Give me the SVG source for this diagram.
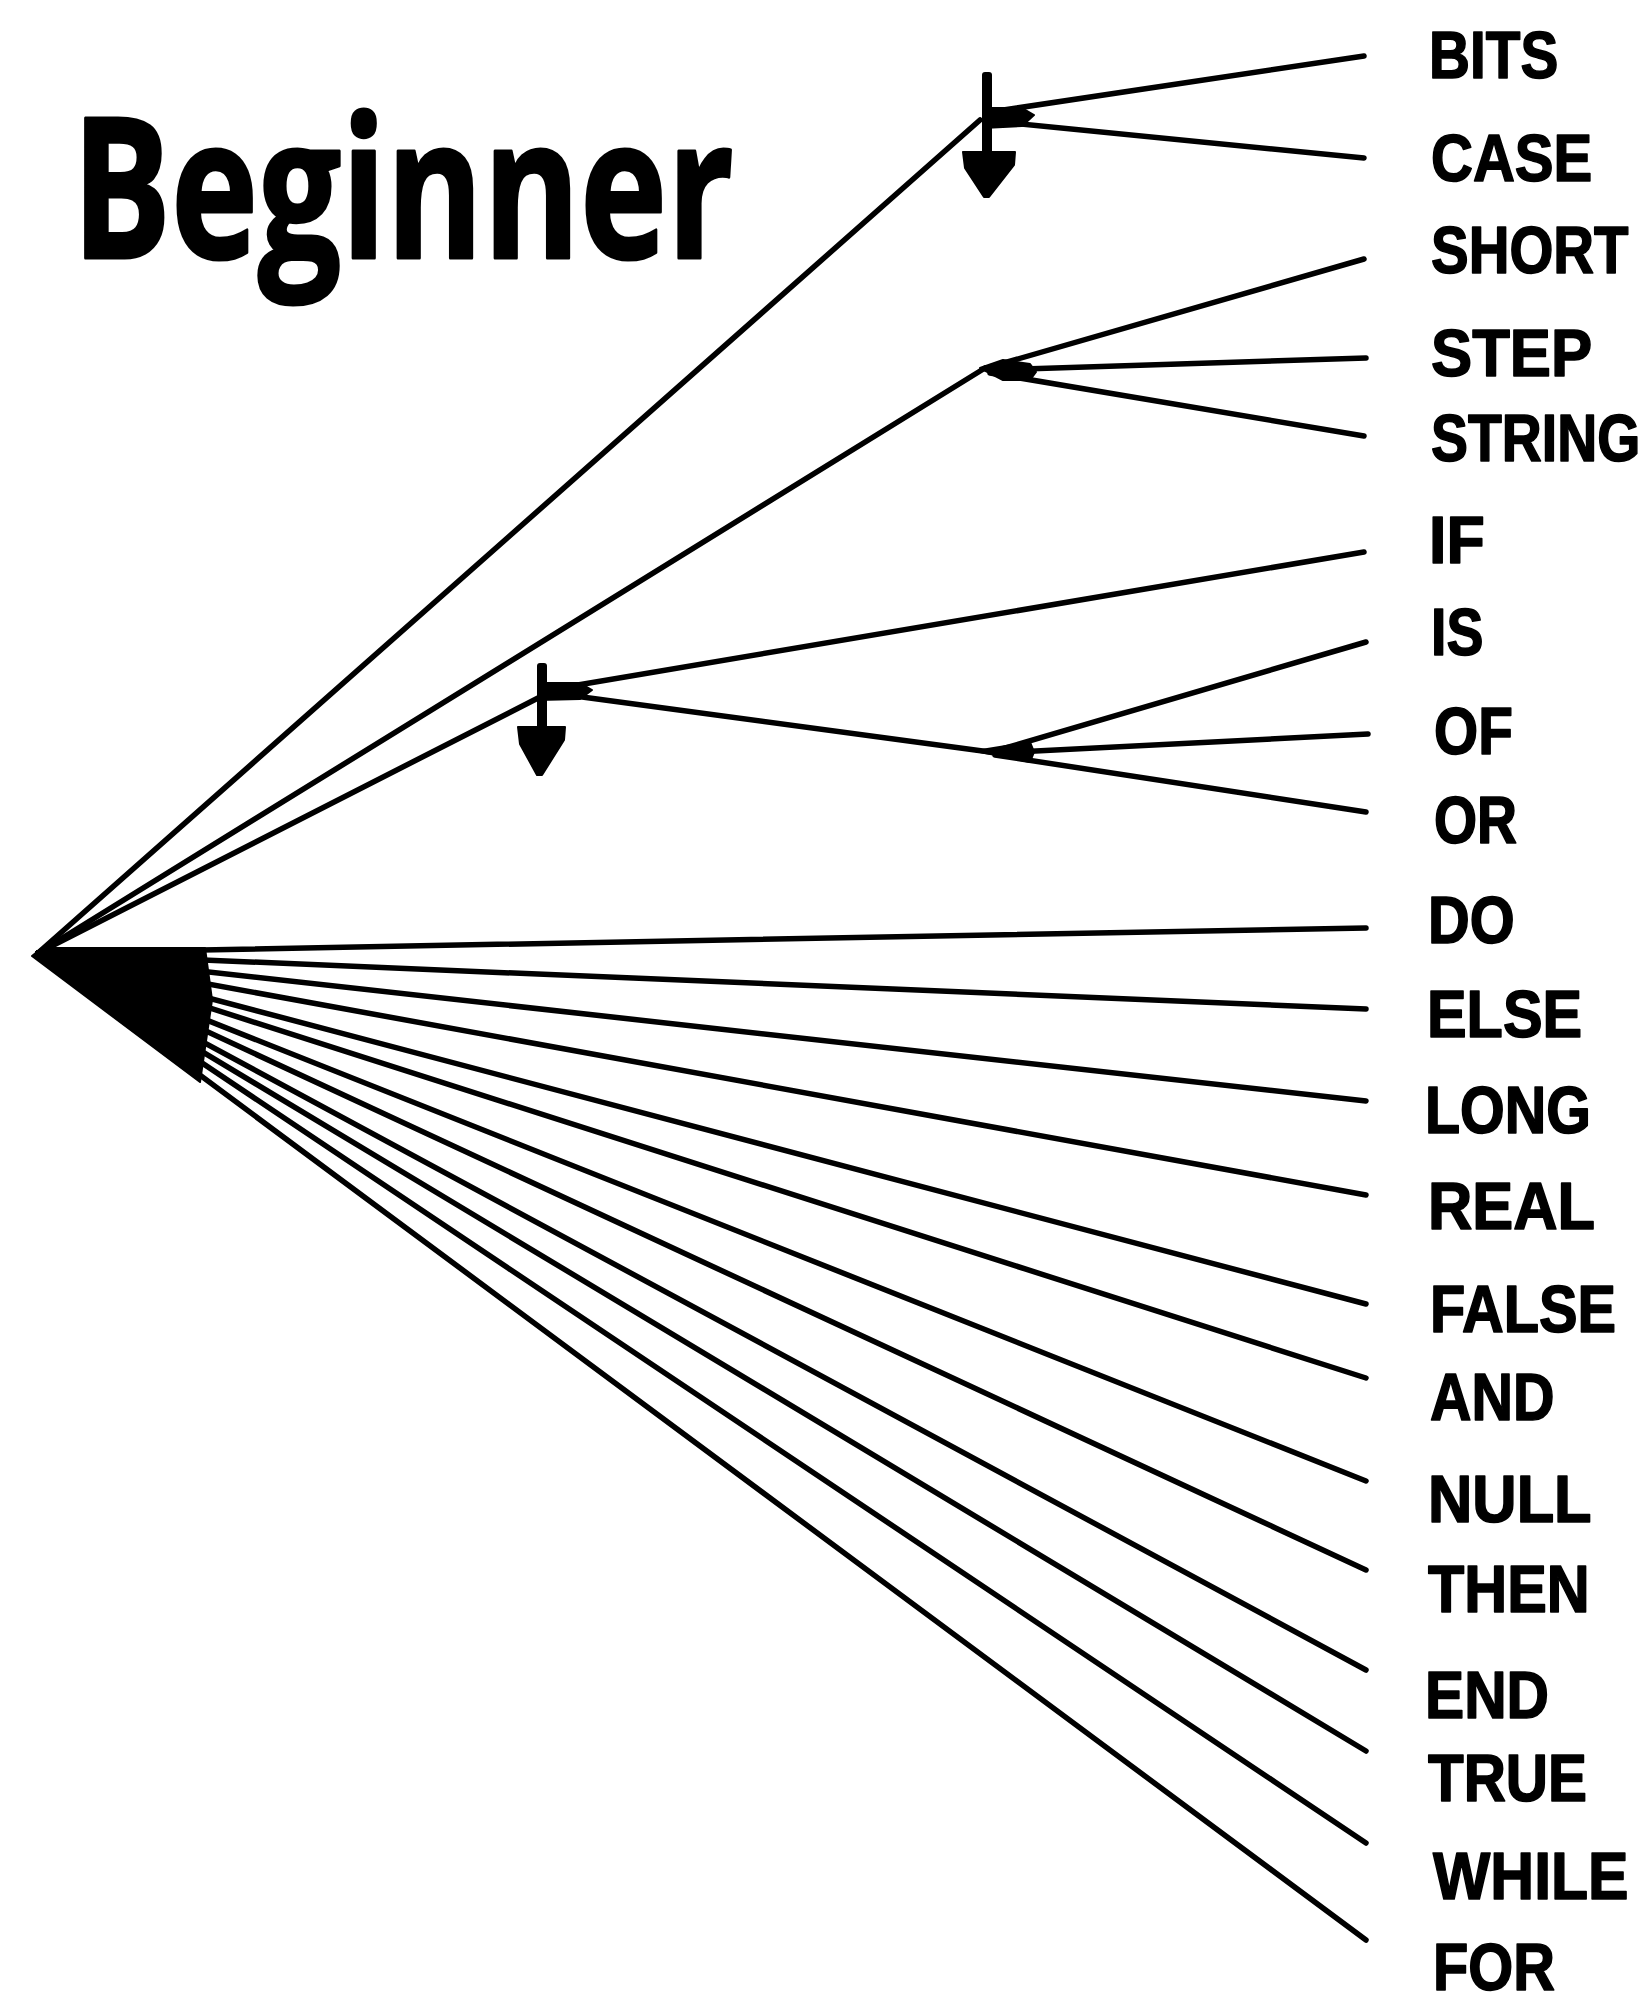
<svg xmlns="http://www.w3.org/2000/svg" width="1650" height="2003" viewBox="0 0 1650 2003">
<style>
.ln{stroke:#000;stroke-width:5.5;stroke-linecap:round;fill:none}
.hub{fill:#000;stroke:#000;stroke-width:2;stroke-linejoin:round}
.lbl{font-family:"Liberation Sans",Arial,sans-serif;font-weight:bold;font-size:66px;fill:#000;stroke:#000;stroke-width:1.6;stroke-linejoin:round}
.title{font-family:"Open Sans","Noto Sans",sans-serif;font-weight:700;font-size:196px;fill:#000;stroke:#000;stroke-width:3;stroke-linejoin:round}
</style>
<rect width="1650" height="2003" fill="#fff"/>
<text class="title" x="72" y="258" textLength="662" lengthAdjust="spacingAndGlyphs">Beginner</text>
<g id="connectors">
  <line class="ln" x1="38" y1="953" x2="980" y2="120"/>
  <line class="ln" x1="38" y1="953" x2="985" y2="368"/>
  <line class="ln" x1="38" y1="953" x2="540" y2="697"/>
  <line class="ln" x1="990" y1="112" x2="1364" y2="56"/>
  <line class="ln" x1="990" y1="121" x2="1364" y2="158"/>
  <polygon class="hub" points="983,108 1022,108 1034,115 1022,126 983,128"/>
  <line class="ln" x1="990" y1="367" x2="1364" y2="259"/>
  <line class="ln" x1="990" y1="370" x2="1366" y2="358"/>
  <line class="ln" x1="990" y1="373" x2="1364" y2="436"/>
  <polygon class="hub" points="980,368 1003,360 1030,364 1036,372 1030,380 1003,380"/>
  <line class="ln" x1="560" y1="688" x2="1364" y2="552"/>
  <line class="ln" x1="560" y1="694" x2="990" y2="752"/>
  <polygon class="hub" points="538,683 580,683 592,690 580,699 538,700"/>
  <line class="ln" x1="995" y1="751" x2="1366" y2="642"/>
  <line class="ln" x1="995" y1="753" x2="1368" y2="734"/>
  <line class="ln" x1="995" y1="755" x2="1366" y2="812"/>
  <polygon class="hub" points="975,751 1030,742 1034,752 1030,762"/>
  <line class="ln" x1="38" y1="953" x2="1366" y2="928"/>
  <line class="ln" x1="38" y1="953" x2="1366" y2="1009"/>
  <line class="ln" x1="38" y1="953" x2="1366" y2="1101"/>
  <line class="ln" x1="38" y1="953" x2="1366" y2="1195"/>
  <line class="ln" x1="38" y1="953" x2="1366" y2="1304"/>
  <line class="ln" x1="38" y1="953" x2="1366" y2="1378"/>
  <line class="ln" x1="38" y1="953" x2="1366" y2="1481"/>
  <line class="ln" x1="38" y1="953" x2="1366" y2="1570"/>
  <line class="ln" x1="38" y1="953" x2="1366" y2="1670"/>
  <line class="ln" x1="38" y1="953" x2="1366" y2="1751"/>
  <line class="ln" x1="38" y1="953" x2="1366" y2="1843"/>
  <line class="ln" x1="38" y1="955" x2="1366" y2="1940"/>
  <polygon class="hub" points="32,956 42,948 205,948 212,1000 200,1082"/>
</g>
<g id="arrow-top">
  <rect x="982" y="72" width="10" height="84" rx="3" fill="#000"/>
  <polygon class="hub" points="963,152 1015,152 1014,165 989,197 984,197 965,168"/>
</g>
<g id="arrow-mid">
  <rect x="537" y="663" width="10" height="68" rx="3" fill="#000"/>
  <polygon class="hub" points="518,727 565,727 564,740 542,775 537,775 520,744"/>
</g>
<g id="labels">
  <g id="n-bits"><text class="lbl" transform="translate(1429,78) scale(0.86,1)">BITS</text></g>
  <g id="n-case"><text class="lbl" transform="translate(1431,181) scale(0.88,1)">CASE</text></g>
  <g id="n-short"><text class="lbl" transform="translate(1431,273) scale(0.855,1)">SHORT</text></g>
  <g id="n-step"><text class="lbl" transform="translate(1431,376) scale(0.935,1)">STEP</text></g>
  <g id="n-string"><text class="lbl" transform="translate(1431,461) scale(0.84,1)">STRING</text></g>
  <g id="n-if"><text class="lbl" transform="translate(1429,563) scale(0.95,1)">IF</text></g>
  <g id="n-is"><text class="lbl" transform="translate(1431,655) scale(0.84,1)">IS</text></g>
  <g id="n-of"><text class="lbl" transform="translate(1434,754) scale(0.86,1)">OF</text></g>
  <g id="n-or"><text class="lbl" transform="translate(1434,843) scale(0.84,1)">OR</text></g>
  <g id="n-do"><text class="lbl" transform="translate(1428,943) scale(0.875,1)">DO</text></g>
  <g id="n-else"><text class="lbl" transform="translate(1427,1037) scale(0.9,1)">ELSE</text></g>
  <g id="n-long"><text class="lbl" transform="translate(1425,1133) scale(0.87,1)">LONG</text></g>
  <g id="n-real"><text class="lbl" transform="translate(1428,1229) scale(0.93,1)">REAL</text></g>
  <g id="n-false"><text class="lbl" transform="translate(1430,1332) scale(0.875,1)">FALSE</text></g>
  <g id="n-and"><text class="lbl" transform="translate(1430,1420) scale(0.87,1)">AND</text></g>
  <g id="n-null"><text class="lbl" transform="translate(1428,1522) scale(0.93,1)">NULL</text></g>
  <g id="n-then"><text class="lbl" transform="translate(1428,1612) scale(0.9,1)">THEN</text></g>
  <g id="n-end"><text class="lbl" transform="translate(1425,1718) scale(0.89,1)">END</text></g>
  <g id="n-true"><text class="lbl" transform="translate(1428,1801) scale(0.885,1)">TRUE</text></g>
  <g id="n-while"><text class="lbl" transform="translate(1433,1899) scale(0.92,1)">WHILE</text></g>
  <g id="n-for"><text class="lbl" transform="translate(1433,1990) scale(0.875,1)">FOR</text></g>
</g>
</svg>
